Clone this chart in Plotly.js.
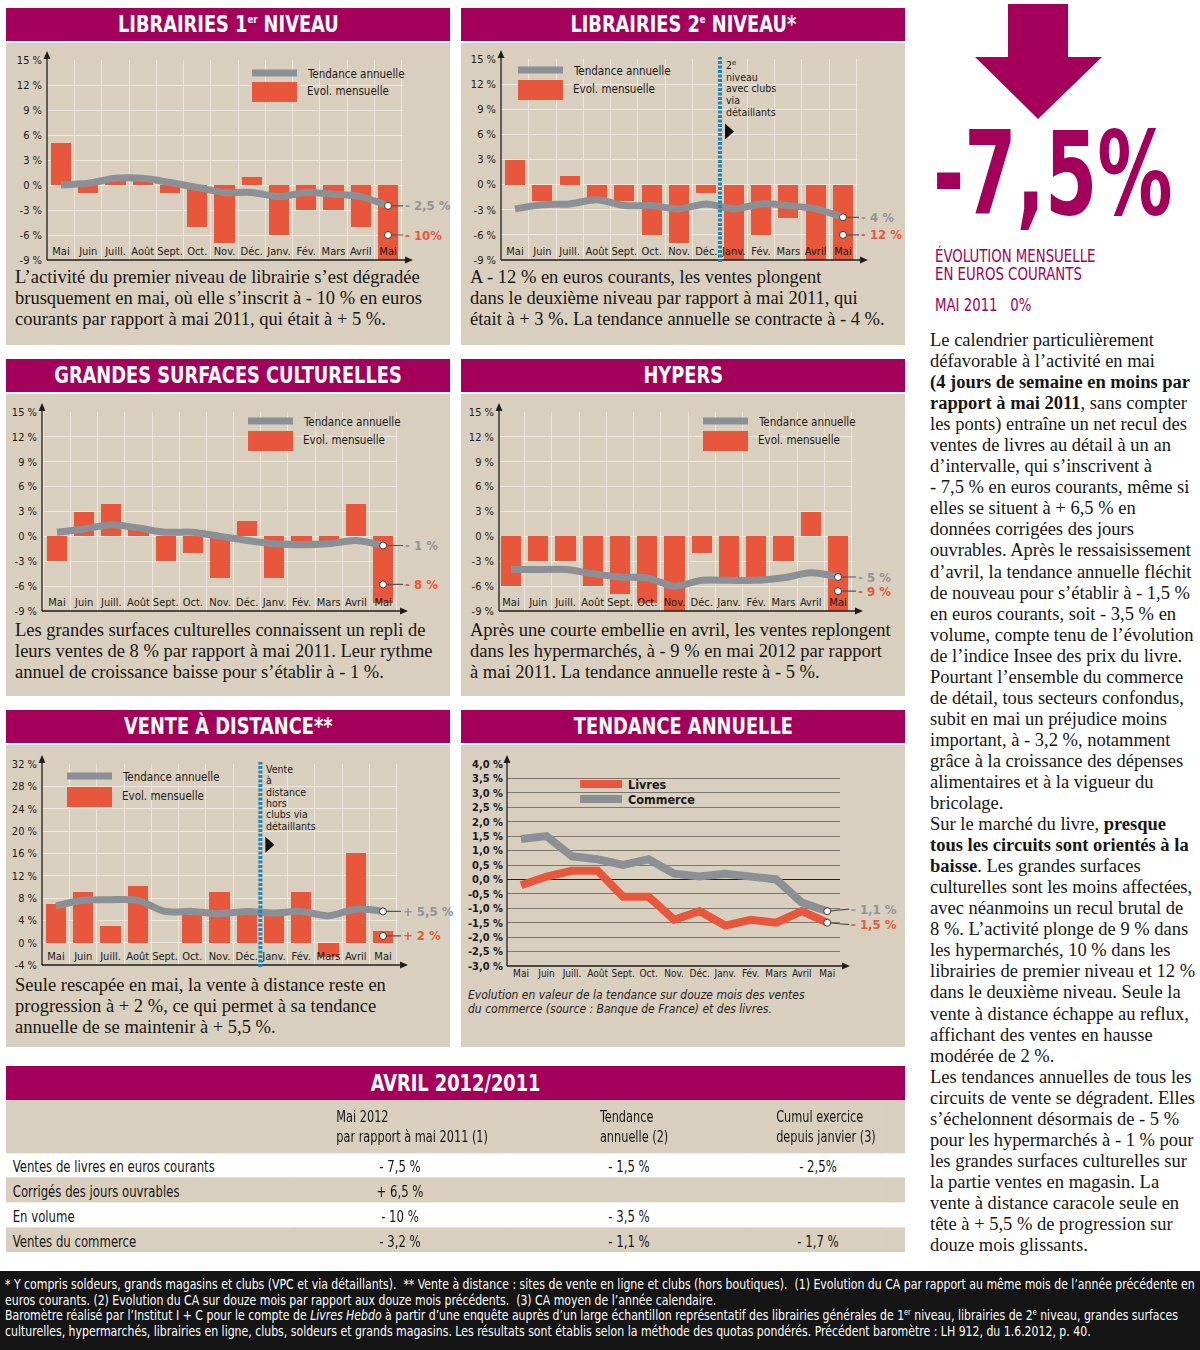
<!DOCTYPE html>
<html lang="fr"><head><meta charset="utf-8">
<script src="https://cdn.plot.ly/plotly-3.0.1.min.js"></script>
<style>
body{margin:0;background:#fff;}
#page{position:relative;width:1200px;height:1350px;overflow:hidden;background:#fff;}
.hdr{position:absolute;background:#a4005b;color:#fff;font-family:'DejaVu Sans Condensed',sans-serif;font-weight:bold;font-size:23px;text-align:center;line-height:33px;height:33px;}
.hdr span{display:inline-block;transform:scaleX(0.86);transform-origin:center;}
.hdr sup{font-size:11px;vertical-align:9px;line-height:0;}
.bodyp{position:absolute;background:#d9cfbe;}
.para{position:absolute;font-family:'Liberation Serif','DejaVu Serif',serif;font-size:18.5px;line-height:21px;color:#161616;white-space:nowrap;}
.chart{position:absolute;}
.note{position:absolute;font-family:'DejaVu Sans Condensed',sans-serif;font-style:italic;font-size:12px;line-height:14px;color:#222;white-space:nowrap;}
#foot{position:absolute;left:0;top:1271px;width:1200px;height:79px;background:#151515;color:#fff;font-family:'DejaVu Sans Condensed',sans-serif;font-size:13.5px;line-height:15.6px;box-sizing:border-box;padding:6px 5px;white-space:nowrap;}
#foot div{transform:scaleX(0.9);transform-origin:left center;}
#foot sup{font-size:8px;vertical-align:5px;line-height:0;}
#side{position:absolute;left:930px;top:330px;font-family:'Liberation Serif','DejaVu Serif',serif;font-size:18.5px;line-height:21.05px;color:#161616;white-space:nowrap;}
#tblwrap{position:absolute;left:6px;top:1100px;width:1070px;height:152px;transform:scaleX(0.8402);transform-origin:left top;}
#big{position:absolute;left:933px;top:114px;font-family:'DejaVu Sans Condensed',sans-serif;font-weight:bold;font-size:116px;line-height:120px;color:#a4005b;white-space:nowrap;transform:scaleX(0.72);transform-origin:left top;}
.mg{position:absolute;left:935px;font-family:'DejaVu Sans Condensed',sans-serif;font-size:17px;color:#a4005b;white-space:nowrap;transform:scaleX(0.87);transform-origin:left top;line-height:17px;}
</style></head>
<body><div id="page">

<!-- panel backgrounds & headers -->
<div class="hdr" style="left:6px;top:8px;width:444px;"><span>LIBRAIRIES 1<sup>er</sup> NIVEAU</span></div>
<div class="bodyp" style="left:6px;top:43px;width:444px;height:302px;"></div>
<div class="hdr" style="left:461px;top:8px;width:444px;"><span>LIBRAIRIES 2<sup>e</sup> NIVEAU*</span></div>
<div class="bodyp" style="left:461px;top:43px;width:444px;height:302px;"></div>

<div class="hdr" style="left:6px;top:359px;width:444px;"><span>GRANDES SURFACES CULTURELLES</span></div>
<div class="bodyp" style="left:6px;top:394px;width:444px;height:302px;"></div>
<div class="hdr" style="left:461px;top:359px;width:444px;"><span>HYPERS</span></div>
<div class="bodyp" style="left:461px;top:394px;width:444px;height:302px;"></div>

<div class="hdr" style="left:6px;top:710px;width:444px;"><span>VENTE À DISTANCE**</span></div>
<div class="bodyp" style="left:6px;top:745px;width:444px;height:302px;"></div>
<div class="hdr" style="left:461px;top:710px;width:444px;"><span>TENDANCE ANNUELLE</span></div>
<div class="bodyp" style="left:461px;top:745px;width:444px;height:302px;"></div>

<div class="hdr" style="left:6px;top:1066px;width:899px;height:34px;line-height:34px;"><span>AVRIL 2012/2011</span></div>

<!-- paragraphs -->
<div class="para" style="left:15px;top:267px;">L’activité du premier niveau de librairie s’est dégradée<br>brusquement en mai, où elle s’inscrit à - 10 % en euros<br>courants par rapport à mai 2011, qui était à + 5 %.</div>
<div class="para" style="left:470px;top:267px;">A - 12 % en euros courants, les ventes plongent<br>dans le deuxième niveau par rapport à mai 2011, qui<br>était à + 3 %. La tendance annuelle se contracte à - 4 %.</div>
<div class="para" style="left:15px;top:620px;">Les grandes surfaces culturelles connaissent un repli de<br>leurs ventes de 8 % par rapport à mai 2011. Leur rythme<br>annuel de croissance baisse pour s’établir à - 1 %.</div>
<div class="para" style="left:470px;top:620px;">Après une courte embellie en avril, les ventes replongent<br>dans les hypermarchés, à - 9 % en mai 2012 par rapport<br>à mai 2011. La tendance annuelle reste à - 5 %.</div>
<div class="para" style="left:15px;top:975px;">Seule rescapée en mai, la vente à distance reste en<br>progression à + 2 %, ce qui permet à sa tendance<br>annuelle de se maintenir à + 5,5 %.</div>
<div class="note" style="left:468px;top:988px;">Evolution en valeur de la tendance sur douze mois des ventes<br>du commerce (source : Banque de France) et des livres.</div>

<!-- charts -->
<div class="chart" id="c1" style="left:6px;top:43px;width:460px;height:302px;"></div>
<div class="chart" id="c2" style="left:461px;top:43px;width:460px;height:302px;"></div>
<div class="chart" id="c3" style="left:6px;top:394px;width:460px;height:302px;"></div>
<div class="chart" id="c4" style="left:461px;top:394px;width:460px;height:302px;"></div>
<div class="chart" id="c5" style="left:6px;top:745px;width:460px;height:302px;"></div>
<div class="chart" id="c6" style="left:461px;top:745px;width:460px;height:240px;"></div>
<div id="tblwrap"><div id="tbl" style="width:1070px;height:152px;"></div></div>

<!-- right column -->
<svg style="position:absolute;left:910px;top:0;" width="290" height="125">
  <polygon points="98,4 158,4 158,57 192,57 128,119 65,57 98,57" fill="#a4005b"/>
</svg>
<div id="big">-7,5%</div>
<div class="mg" style="top:248px;">ÉVOLUTION MENSUELLE</div>
<div class="mg" style="top:266px;">EN EUROS COURANTS</div>
<div class="mg" style="top:297px;">MAI 2011&nbsp;&nbsp;&nbsp;0%</div>
<div id="side">Le calendrier particulièrement<br>défavorable à l’activité en mai<br><b>(4 jours de semaine en moins par</b><br><b>rapport à mai 2011</b>, sans compter<br>les ponts) entraîne un net recul des<br>ventes de livres au détail à un an<br>d’intervalle, qui s’inscrivent à<br>- 7,5 % en euros courants, même si<br>elles se situent à + 6,5 % en<br>données corrigées des jours<br>ouvrables. Après le ressaisissement<br>d’avril, la tendance annuelle fléchit<br>de nouveau pour s’établir à - 1,5 %<br>en euros courants, soit - 3,5 % en<br>volume, compte tenu de l’évolution<br>de l’indice Insee des prix du livre.<br>Pourtant l’ensemble du commerce<br>de détail, tous secteurs confondus,<br>subit en mai un préjudice moins<br>important, à - 3,2 %, notamment<br>grâce à la croissance des dépenses<br>alimentaires et à la vigueur du<br>bricolage.<br>Sur le marché du livre, <b>presque</b><br><b>tous les circuits sont orientés à la</b><br><b>baisse</b>. Les grandes surfaces<br>culturelles sont les moins affectées,<br>avec néanmoins un recul brutal de<br>8 %. L’activité plonge de 9 % dans<br>les hypermarchés, 10 % dans les<br>librairies de premier niveau et 12 %<br>dans le deuxième niveau. Seule la<br>vente à distance échappe au reflux,<br>affichant des ventes en hausse<br>modérée de 2 %.<br>Les tendances annuelles de tous les<br>circuits de vente se dégradent. Elles<br>s’échelonnent désormais de - 5 %<br>pour les hypermarchés à - 1 % pour<br>les grandes surfaces culturelles sur<br>la partie ventes en magasin. La<br>vente à distance caracole seule en<br>tête à + 5,5 % de progression sur<br>douze mois glissants.</div>

<div id="foot"><div>* Y compris soldeurs, grands magasins et clubs (VPC et via détaillants).&nbsp; ** Vente à distance : sites de vente en ligne et clubs (hors boutiques).&nbsp; (1) Evolution du CA par rapport au même mois de l’année précédente en</div><div>euros courants. (2) Evolution du CA sur douze mois par rapport aux douze mois précédents.&nbsp; (3) CA moyen de l’année calendaire.</div><div>Baromètre réalisé par l’Institut I + C pour le compte de <i>Livres Hebdo</i> à partir d’une enquête auprès d’un large échantillon représentatif des librairies générales de 1<sup>er</sup> niveau, librairies de 2<sup>e</sup> niveau, grandes surfaces</div><div>culturelles, hypermarchés, librairies en ligne, clubs, soldeurs et grands magasins. Les résultats sont établis selon la méthode des quotas pondérés. Précédent baromètre : LH 912, du 1.6.2012, p. 40.</div></div>

</div>
<script>
// ---------------- DATA ----------------
const MONTHS = ['Mai','Juin','Juill.','Août','Sept.','Oct.','Nov.','Déc.','Janv.','Fév.','Mars','Avril','Mai'];

const lib1Mensuel  = [5, -0.9, 0.6, 0.5, -0.9, -5, -7, 1, -6, -3, -3, -5, -10];
const lib1Tendance = [0, 0.2, 0.8, 0.8, 0.3, -0.3, -0.9, -0.9, -1.4, -0.9, -1.1, -1.4, -2.5];
const lib1Labels   = ['- 2,5 %', '- 10%'];

const lib2Mensuel  = [3, -2, 1, -2, -2, -6, -7, -1, -9, -6, -4, -9, -12];
const lib2Tendance = [-2.9, -2.4, -2.3, -1.8, -2.5, -2.5, -2.9, -2.3, -2.9, -2.3, -2.5, -2.9, -3.9];
const lib2Labels   = ['- 4 %', '- 12 %'];

const gscMensuel   = [-3, 2.9, 3.9, 1, -3, -2, -5, 1.9, -5, -1, -1, 3.9, -8];
const gscTendance  = [0.5, 0.9, 1.4, 1.0, 0.5, 0.5, 0, -0.5, -0.9, -1.0, -0.9, -0.5, -1.1];
const gscLabels    = ['- 1 %', '- 8 %'];

const hypMensuel   = [-6, -3, -3, -6, -7, -8, -9, -2, -5, -5, -3, 2.9, -9];
const hypTendance  = [-4, -4, -4, -4.5, -4.9, -5, -6, -5.3, -5.3, -5.3, -5, -4.4, -4.9];
const hypLabels    = ['- 5 %', '- 9 %'];

const vadMensuel   = [7, 9.1, 3, 10.1, 0, 5, 9, 5, 5.9, 9, -2.5, 16, 2.1];
const vadTendance  = [6.6, 7.6, 7.7, 7.6, 5.6, 5.6, 5.2, 5.6, 5.3, 5.6, 4.8, 6.0, 5.6];
const vadLabels    = ['+ 5,5 %', '+ 2 %'];

const taLivres     = [-0.2, 0.1, 0.3, 0.3, -0.6, -0.6, -1.4, -1.1, -1.6, -1.4, -1.5, -1.1, -1.5];
const taCommerce   = [1.4, 1.5, 0.8, 0.7, 0.5, 0.7, 0.2, 0.1, 0.2, 0.1, 0.0, -0.8, -1.1];
const taLabels     = ['- 1,1 %', '- 1,5 %'];

// where the monthly end-label sits on the value axis
const lib1LabelPos = -6, lib2LabelPos = -6, gscLabelPos = -5.8, hypLabelPos = -6.6, vadLabelPos = 1.2;

const pctTicks = [-9, -6, -3, 0, 3, 6, 9, 12, 15];
const vadTicks = [-4, 0, 4, 8, 12, 16, 20, 24, 28, 32];
const taTicks  = [-3, -2.5, -2, -1.5, -1, -0.5, 0, 0.5, 1, 1.5, 2, 2.5, 3, 3.5, 4];

const lib2Divider = ['2<sup>e</sup>', 'niveau', 'avec clubs', 'via', 'détaillants'];
const vadDivider  = ['Vente', 'à', 'distance', 'hors', 'clubs via', 'détaillants'];

const tableHeader  = ['', 'Mai 2012<br>par rapport à mai 2011 (1)', 'Tendance<br>annuelle (2)', 'Cumul exercice<br>depuis janvier (3)', ''];
const rowLabels    = ['Ventes de livres en euros courants', 'Corrigés des jours ouvrables', 'En volume', 'Ventes du commerce'];
const colMai2012   = ['- 7,5 %', '+ 6,5 %', '- 10 %', '- 3,2 %'];
const colTendance  = ['- 1,5 %', '', '- 3,5 %', '- 1,1 %'];
const colCumul     = ['- 2,5%', '', '', '- 1,7 %'];

// ---------------- STYLE ----------------
const FN = "'DejaVu Sans Condensed','Liberation Sans',sans-serif";
const ORANGE = '#e8573b', GRAY = '#8b9097', GRID = '#ece6dc', MAG = '#a4005b', BEIGE = '#d9cfbe';
const AX = '#1e1e1e';
const CFG = {staticPlot: true, displayModeBar: false};

function axisShapes(W, H) {
  return [
    {type:'line', xref:'paper', yref:'paper', x0:0, x1:0, y0:0, y1:1 + 2/H, line:{color:AX, width:1.3}},
    {type:'path', xref:'paper', yref:'paper', path:`M ${-3.5/W} ${1 + 1/H} L ${3.5/W} ${1 + 1/H} L 0 ${1 + 9/H} Z`, fillcolor:AX, line:{width:0}},
    {type:'line', xref:'paper', yref:'paper', x0:0, x1:1 + 3/W, y0:0, y1:0, line:{color:AX, width:1.3}},
    {type:'path', xref:'paper', yref:'paper', path:`M ${1 + 2/W} ${3.5/H} L ${1 + 2/W} ${-3.5/H} L ${1 + 10/W} 0 Z`, fillcolor:AX, line:{width:0}}
  ];
}

function barChart(id, o) {
  const plotR = o.x0 + (MONTHS.length - 0.45) * o.dx;
  const W = plotR - o.plotL, H = o.plotB - o.plotT;
  const px = x => (x - o.plotL) / W, py = y => (o.plotB - y) / H;
  const idx = MONTHS.map((_, i) => i), last = MONTHS.length - 1;
  const tend = o.tendance;
  const data = [
    {type:'bar', x:idx, y:o.mensuel, width:0.74, marker:{color:ORANGE, line:{width:0}}, cliponaxis:false, hoverinfo:'skip'},
    {type:'scatter', mode:'lines', x:idx, y:tend, line:{color:GRAY, width:7, shape:'spline', smoothing:0.8}, cliponaxis:false, hoverinfo:'skip'},
    {type:'scatter', mode:'markers', x:[last, last], y:[tend[last], o.labelPos], marker:{size:7, color:'#fff', line:{color:'#3a3a3a', width:1}}, cliponaxis:false, hoverinfo:'skip'}
  ];
  const shapes = axisShapes(W, H).concat([
    {type:'rect', xref:'paper', yref:'paper', x0:px(o.legX), x1:px(o.legX + 45), y0:py(o.legY1 + 3.5), y1:py(o.legY1 - 3.5), fillcolor:GRAY, line:{width:0}},
    {type:'rect', xref:'paper', yref:'paper', x0:px(o.legX), x1:px(o.legX + 45), y0:py(o.legY2 + 10), y1:py(o.legY2 - 10), fillcolor:ORANGE, line:{width:0}}
  ]);
  const annotations = [
    {xref:'paper', yref:'paper', x:px(o.legX + 53), y:py(o.legY1 + 1), xanchor:'left', yanchor:'middle', text:'Tendance annuelle', showarrow:false, font:{family:FN, size:11.5, color:'#1a1a1a'}},
    {xref:'paper', yref:'paper', x:px(o.legX + 53), y:py(o.legY2 - 1), xanchor:'left', yanchor:'middle', text:'Evol. mensuelle', showarrow:false, font:{family:FN, size:11.5, color:'#1a1a1a'}},
    {x:last, y:tend[last], xref:'x', yref:'y', text:o.labels[0], showarrow:true, arrowhead:0, arrowwidth:1.2, arrowcolor:'#555', ax:o.labelOff, ay:0, xanchor:'left', standoff:3, font:{family:FN, size:13, color:'#8f949b', weight:'bold'}},
    {x:last, y:o.labelPos, xref:'x', yref:'y', text:o.labels[1], showarrow:true, arrowhead:0, arrowwidth:1.2, arrowcolor:'#555', ax:o.labelOff, ay:0, xanchor:'left', standoff:3, font:{family:FN, size:13, color:ORANGE, weight:'bold'}}
  ];
  if (o.divider) {
    const dxp = o.x0 + 7.5 * o.dx;
    shapes.push({type:'line', xref:'x', yref:'paper', x0:7.5, x1:7.5, y0:-0.01, y1:1.01, line:{color:'#1d86b4', width:4, dash:'3px,1.5px'}});
    o.divider.forEach((t, i) => annotations.push({xref:'paper', yref:'paper', x:px(dxp + 4), y:py(o.dvY + i * o.dvStep), xanchor:'left', yanchor:'middle', text:t, showarrow:false, font:{family:FN, size:10.5, color:'#1a1a1a'}}));
    const ty = o.dvY + o.divider.length * o.dvStep + 8;
    const tx0 = dxp + 5;
    shapes.push({type:'path', xref:'paper', yref:'paper', path:`M ${px(tx0)} ${py(ty - 8)} L ${px(tx0)} ${py(ty + 8)} L ${px(tx0 + 9)} ${py(ty)} Z`, fillcolor:'#111', line:{width:0}});
  }
  const layout = {
    width:o.divW, height:o.divH,
    margin:{l:o.plotL - o.divX, r:o.divX + o.divW - plotR, t:o.plotT - o.divY, b:o.divY + o.divH - o.plotB, pad:0, autoexpand:false},
    paper_bgcolor:'rgba(0,0,0,0)', plot_bgcolor:'rgba(0,0,0,0)', showlegend:false, bargap:0,
    xaxis:{range:[(o.plotL - o.x0) / o.dx, (plotR - o.x0) / o.dx], tickmode:'array', tickvals:idx, ticktext:MONTHS, tickangle:0, automargin:false,
      ticklabelposition:'inside', ticklabeloverflow:'allow', ticks:'', showgrid:false, zeroline:false, showline:false,
      tickfont:{family:FN, size:11, color:'#1a1a1a'},
      minor:{tickmode:'linear', tick0:0.5, dtick:1, showgrid:true, gridcolor:GRID, gridwidth:1, ticks:''}},
    yaxis:{range:o.yr, tickmode:'array', tickvals:o.yt, ticktext:o.yt.map(v => v + ' %'), ticks:'', showgrid:true, gridcolor:GRID, gridwidth:1, automargin:false,
      zeroline:false, showline:false, tickfont:{family:FN, size:11, color:'#1a1a1a'}, ticklabelstandoff:4},
    shapes:shapes, annotations:annotations
  };
  Plotly.newPlot(id, data, layout, CFG);
}

barChart('c1', {divX:6, divY:43, divW:460, divH:302, plotL:47, plotT:60, plotB:260, x0:61, dx:27.25,
  yr:[-9, 15], yt:pctTicks, mensuel:lib1Mensuel, tendance:lib1Tendance, labels:lib1Labels, labelPos:lib1LabelPos, labelOff:15,
  legX:252, legY1:73, legY2:92});
barChart('c2', {divX:461, divY:43, divW:460, divH:302, plotL:501, plotT:59, plotB:260, x0:515, dx:27.33,
  yr:[-9, 15], yt:pctTicks, mensuel:lib2Mensuel, tendance:lib2Tendance, labels:lib2Labels, labelPos:lib2LabelPos, labelOff:16,
  legX:518, legY1:70, legY2:90, divider:lib2Divider, dvY:65, dvStep:11.7});
barChart('c3', {divX:6, divY:394, divW:460, divH:302, plotL:42, plotT:412, plotB:611, x0:57, dx:27.17,
  yr:[-9, 15], yt:pctTicks, mensuel:gscMensuel, tendance:gscTendance, labels:gscLabels, labelPos:gscLabelPos, labelOff:20,
  legX:248, legY1:421, legY2:441});
barChart('c4', {divX:461, divY:394, divW:460, divH:302, plotL:499, plotT:412, plotB:611, x0:511, dx:27.25,
  yr:[-9, 15], yt:pctTicks, mensuel:hypMensuel, tendance:hypTendance, labels:hypLabels, labelPos:hypLabelPos, labelOff:18,
  legX:703, legY1:421, legY2:441});
barChart('c5', {divX:6, divY:745, divW:460, divH:302, plotL:42, plotT:764, plotB:965, x0:56, dx:27.25,
  yr:[-4, 32], yt:vadTicks, mensuel:vadMensuel, tendance:vadTendance, labels:vadLabels, labelPos:vadLabelPos, labelOff:18,
  legX:67, legY1:776, legY2:797, divider:vadDivider, dvY:769, dvStep:11.3});

// ---------------- TENDANCE ANNUELLE ----------------
(function () {
  const o = {divX:461, divY:745, divW:460, divH:240, plotL:507, plotT:764, plotB:966, x0:521, dx:25.5};
  const plotR = o.x0 + 12.5 * o.dx;
  const W = plotR - o.plotL, H = o.plotB - o.plotT;
  const px = x => (x - o.plotL) / W, py = y => (o.plotB - y) / H;
  const idx = MONTHS.map((_, i) => i), last = MONTHS.length - 1;
  const data = [
    {type:'scatter', mode:'lines', x:idx, y:taLivres, line:{color:ORANGE, width:8}, cliponaxis:false, hoverinfo:'skip'},
    {type:'scatter', mode:'lines', x:idx, y:taCommerce, line:{color:GRAY, width:8}, cliponaxis:false, hoverinfo:'skip'},
    {type:'scatter', mode:'markers', x:[last, last], y:[taCommerce[last], taLivres[last]], marker:{size:7, color:'#fff', line:{color:'#3a3a3a', width:1}}, cliponaxis:false, hoverinfo:'skip'}
  ];
  const shapes = axisShapes(W, H).concat([
    {type:'rect', xref:'paper', yref:'paper', x0:px(580), x1:px(622), y0:py(788), y1:py(780), fillcolor:ORANGE, line:{width:0}},
    {type:'rect', xref:'paper', yref:'paper', x0:px(580), x1:px(622), y0:py(803), y1:py(795), fillcolor:GRAY, line:{width:0}}
  ]);
  const annotations = [
    {xref:'paper', yref:'paper', x:px(626), y:py(784), xanchor:'left', yanchor:'middle', text:'Livres', showarrow:false, font:{family:FN, size:12.5, color:'#1a1a1a', weight:'bold'}},
    {xref:'paper', yref:'paper', x:px(626), y:py(799), xanchor:'left', yanchor:'middle', text:'Commerce', showarrow:false, font:{family:FN, size:12.5, color:'#1a1a1a', weight:'bold'}},
    {x:last, y:taCommerce[last], text:taLabels[0], showarrow:true, arrowhead:0, arrowwidth:1.2, arrowcolor:'#555', ax:22, ay:-2, xanchor:'left', yanchor:'middle', standoff:3, font:{family:FN, size:13, color:'#8f949b', weight:'bold'}},
    {x:last, y:taLivres[last], text:taLabels[1], showarrow:true, arrowhead:0, arrowwidth:1.2, arrowcolor:'#555', ax:22, ay:2, xanchor:'left', yanchor:'middle', standoff:3, font:{family:FN, size:13, color:ORANGE, weight:'bold'}}
  ];
  const layout = {
    width:o.divW, height:o.divH,
    margin:{l:o.plotL - o.divX, r:o.divX + o.divW - plotR, t:o.plotT - o.divY, b:o.divY + o.divH - o.plotB, pad:0, autoexpand:false},
    paper_bgcolor:'rgba(0,0,0,0)', plot_bgcolor:'rgba(0,0,0,0)', showlegend:false,
    xaxis:{range:[(o.plotL - o.x0) / o.dx, 12.5], tickmode:'array', tickvals:idx, ticktext:MONTHS, tickangle:0, automargin:false, ticks:'', showgrid:false, zeroline:false, showline:false,
      tickfont:{family:FN, size:10, color:'#1a1a1a'}, ticklabelstandoff:0},
    yaxis:{range:[-3, 4], tickmode:'array', tickvals:taTicks, ticktext:taTicks.map(v => v.toFixed(1).replace('.', ',') + ' %'), automargin:false,
      ticks:'', showgrid:true, gridcolor:'#7b766e', gridwidth:1, zeroline:true, zerolinecolor:'#222', zerolinewidth:1.5, showline:false,
      tickfont:{family:FN, size:11, color:'#1a1a1a', weight:'bold'}, ticklabelstandoff:3},
    shapes:shapes, annotations:annotations
  };
  Plotly.newPlot('c6', data, layout, CFG);
})();

// ---------------- TABLE ----------------
(function () {
  const rowFill = rowLabels.map((_, i) => i % 2 === 0 ? '#ffffff' : BEIGE);
  const fills = tableHeader.map(() => rowFill);
  const data = [{
    type:'table', columnwidth:[284, 220, 238, 140, 17],
    header:{values:tableHeader, align:['left', 'center', 'center', 'center', 'center'], height:50,
      fill:{color:BEIGE}, line:{color:BEIGE, width:1}, font:{family:FN, size:15, color:'#151515'}},
    cells:{values:[rowLabels, colMai2012, colTendance, colCumul, rowLabels.map(() => '')],
      align:['left', 'center', 'center', 'center', 'center'], height:25,
      fill:{color:fills}, line:{color:fills, width:1},
      font:{family:FN, size:15.5, color:'#151515'}}
  }];
  const layout = {width:1070, height:152, margin:{l:0, r:0, t:0, b:0, pad:0}, paper_bgcolor:'rgba(0,0,0,0)'};
  Plotly.newPlot('tbl', data, layout, CFG);
})();
</script>
</body></html>
